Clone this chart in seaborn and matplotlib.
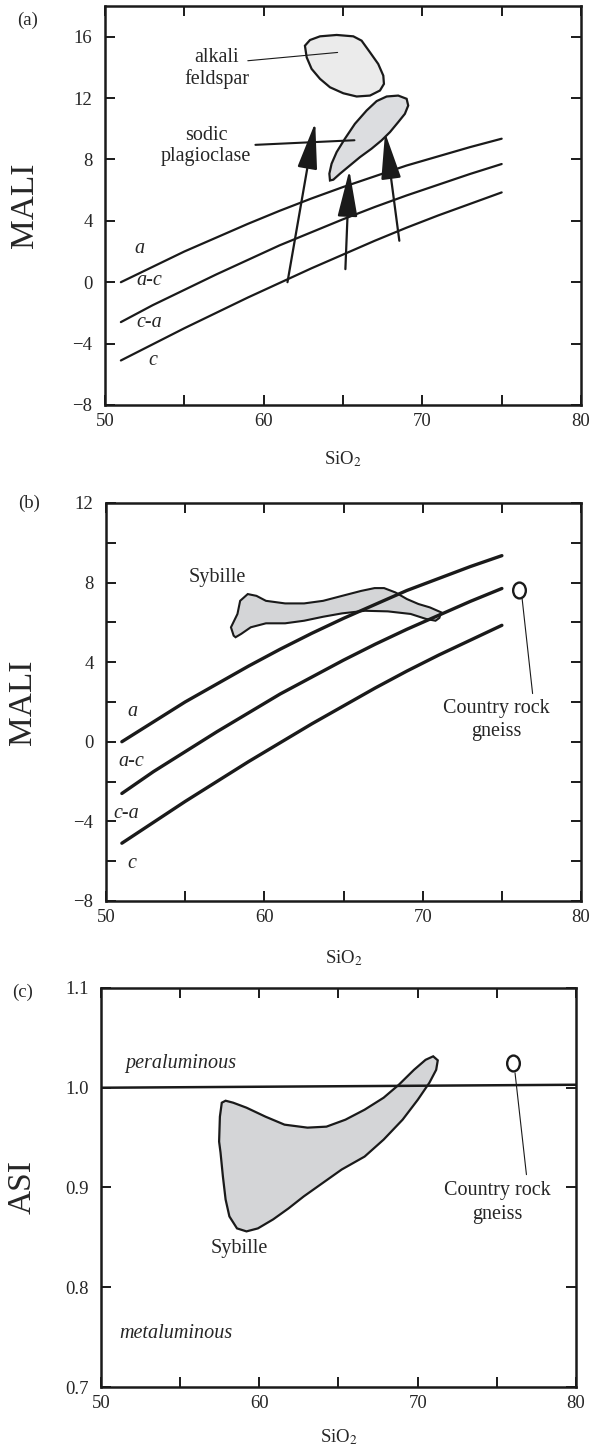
import numpy as np
import matplotlib
matplotlib.use("Agg")
import matplotlib.pyplot as plt
from matplotlib.path import Path
import seaborn as sns

# MALI boundary curves (same in panels a and b)
sio2 = [51, 53, 55, 57, 59, 61, 63, 65, 67, 69, 71, 73, 75]
mali_a = [0.0, 1.0, 2.0, 2.9, 3.8, 4.65, 5.45, 6.2, 6.9, 7.6, 8.2, 8.8, 9.35]
mali_ac = [-2.6, -1.5, -0.5, 0.5, 1.45, 2.4, 3.25, 4.1, 4.9, 5.65, 6.35, 7.05, 7.7]
mali_c = [-5.1, -4.05, -3.0, -2.0, -1.0, -0.05, 0.9, 1.8, 2.7, 3.55, 4.35, 5.1, 5.85]

# panel a: fields
alk_x = [62.6, 62.92, 63.55, 64.6, 65.65, 66.17, 66.7, 67.22, 67.54, 67.58,
         67.33, 66.7, 65.86, 65.02, 64.18, 63.55, 63.02, 62.71]
alk_y = [15.41, 15.78, 16.02, 16.11, 16.02, 15.74, 14.98, 14.22, 13.46, 12.92,
         12.49, 12.16, 12.1, 12.31, 12.7, 13.25, 13.9, 14.65]
plag_x = [64.18, 64.14, 64.28, 64.6, 65.12, 65.75, 66.49, 67.12, 67.75, 68.48,
          69.01, 69.11, 68.9, 68.48, 67.96, 67.43, 66.8, 66.07, 65.44, 64.81, 64.39]
plag_y = [6.63, 7.07, 7.72, 8.48, 9.35, 10.32, 11.19, 11.8, 12.1, 12.16,
          11.95, 11.51, 10.97, 10.43, 9.78, 9.24, 8.7, 8.15, 7.61, 7.07, 6.68]
arrow_x0 = [61.5, 65.15, 68.55]
arrow_y0 = [0.0, 0.85, 2.7]
arrow_x1 = [63.25, 65.4, 67.65]
arrow_y1 = [10.4, 7.3, 9.75]

# panel b: Sybille field (SiO2 vs MALI)
syb_b_x = [58.06, 57.89, 58.3, 58.47, 58.95, 59.5, 60.1, 61.31, 62.51, 63.71,
           64.91, 66.12, 66.96, 67.56, 68.28, 69.0, 69.73, 70.45, 71.17, 71.05,
           70.81, 70.21, 69.24, 67.8, 66.36, 64.91, 63.71, 62.51, 61.31, 60.1,
           59.14, 58.54, 58.18]
syb_b_y = [5.33, 5.75, 6.42, 7.08, 7.42, 7.33, 7.08, 6.95, 6.95, 7.08,
           7.33, 7.58, 7.72, 7.72, 7.5, 7.17, 6.92, 6.75, 6.5, 6.22,
           6.08, 6.17, 6.42, 6.55, 6.58, 6.45, 6.28, 6.08, 5.95, 5.95,
           5.75, 5.42, 5.25]
gneiss_b = (76.1, 7.62)

# panel c: Sybille field (SiO2 vs ASI)
syb_c_x = [57.46, 57.51, 57.63, 57.87, 58.35, 59.19, 60.39, 61.59, 63.04, 64.24,
           65.44, 66.65, 67.85, 68.81, 69.77, 70.5, 70.98, 71.27, 71.17, 70.74,
           70.01, 69.05, 67.85, 66.65, 65.2, 64.0, 62.8, 61.84, 60.87, 59.91,
           59.19, 58.59, 58.11, 57.87, 57.7, 57.55]
syb_c_y = [0.946, 0.971, 0.985, 0.987, 0.985, 0.980, 0.971, 0.963, 0.960, 0.961,
           0.968, 0.978, 0.990, 1.003, 1.018, 1.028, 1.0315, 1.0275, 1.018, 1.005,
           0.988, 0.968, 0.948, 0.931, 0.918, 0.9045, 0.891, 0.879, 0.868, 0.859,
           0.856, 0.859, 0.871, 0.888, 0.911, 0.935]
asi_x = [50, 80]
asi_y = [1.0, 1.003]
gneiss_c = (76.03, 1.025)

sns.set_theme(style="ticks")
plt.rcParams['font.family'] = ['Liberation Serif', 'DejaVu Serif']
plt.rcParams['mathtext.fontset'] = 'stix'

fig = plt.figure(figsize=(5.94, 14.51), dpi=100)
ax_a = fig.add_axes([0.1768, 0.7209, 0.8013, 0.2750])
ax_b = fig.add_axes([0.1785, 0.3791, 0.7997, 0.2743])
ax_c = fig.add_axes([0.1700, 0.0441, 0.7997, 0.2750])

ellipse = Path(Path.unit_circle().vertices * [0.8, 1.0], Path.unit_circle().codes)


def style(ax, ylim, yticks, yminor, ylabel, ylab_x, xlab_y):
    ax.set_xlim(50, 80)
    ax.set_ylim(*ylim)
    ax.set_xticks([50, 60, 70, 80])
    ax.set_xticks([55, 65, 75], minor=True)
    ax.set_yticks(yticks)
    ax.set_yticks(yminor, minor=True)
    ax.tick_params(which='both', direction='in', top=True, right=True,
                   length=7, width=1.4, color='k')
    ax.tick_params(axis='x', which='major', labelsize=13.5, pad=6)
    ax.tick_params(axis='y', which='major', labelsize=13.5, pad=9)
    for s in ax.spines.values():
        s.set_linewidth(1.8)
        s.set_color('k')
    ax.set_xlabel('SiO$_2$', fontsize=13.5)
    ax.xaxis.set_label_coords(0.5, xlab_y)
    ax.set_ylabel(ylabel, fontsize=24)
    ax.yaxis.set_label_coords(ylab_x, 0.5)
    ax.grid(False)


def curves(ax, lw):
    for y in (mali_a, mali_ac, mali_c):
        sns.lineplot(x=sio2, y=y, ax=ax, color='k', lw=lw, zorder=2)


# ---- (a)
ax = ax_a
curves(ax, 1.6)
ax.fill(alk_x, alk_y, facecolor='#ebebeb', edgecolor='k', lw=1.6, zorder=3)
ax.fill(plag_x, plag_y, facecolor='#dcdde0', edgecolor='k', lw=1.6, zorder=3)
for x0, y0, x1, y1 in zip(arrow_x0, arrow_y0, arrow_x1, arrow_y1):
    ax.annotate('', xy=(x1, y1), xytext=(x0, y0), zorder=4,
                arrowprops=dict(arrowstyle='-|>,head_length=2.9,head_width=0.62',
                                mutation_scale=10, lw=1.6, color='k',
                                shrinkA=0, shrinkB=0))
ax.plot([59.0, 64.66], [14.43, 14.97], color='k', lw=0.8, zorder=4)
ax.plot([59.48, 65.72], [8.95, 9.25], color='k', lw=1.5, zorder=4)
ax.text(57.03, 13.95, 'alkali\nfeldspar', ha='center', va='center',
        fontsize=14.5, linespacing=1.15)
ax.text(56.36, 8.87, 'sodic\nplagioclase', ha='center', va='center',
        fontsize=14.5, linespacing=1.15)
for x, y, t in [(52.2, 2.2, 'a'), (52.8, 0.1, 'a-c'), (52.8, -2.6, 'c-a'), (53.0, -5.1, 'c')]:
    ax.text(x, y, t, ha='center', va='center', fontsize=14.5, style='italic')
style(ax, (-8, 18), [-8, -4, 0, 4, 8, 12, 16], [], 'MALI', -0.137, -0.11)

# ---- (b)
ax = ax_b
curves(ax, 2.4)
ax.fill(syb_b_x, syb_b_y, facecolor='#d4d5d7', edgecolor='k', lw=1.5, zorder=1)
sns.scatterplot(x=[gneiss_b[0]], y=[gneiss_b[1]], ax=ax, marker=ellipse, s=130,
                facecolor='white', edgecolor='k', linewidth=1.7, zorder=4)
ax.plot([76.27, 76.94], [7.25, 2.42], color='k', lw=0.8)
ax.text(57.02, 8.25, 'Sybille', ha='center', va='center', fontsize=14.5)
ax.text(74.66, 1.08, 'Country rock\ngneiss', ha='center', va='center',
        fontsize=14.5, linespacing=1.3)
for x, y, t in [(51.7, 1.5, 'a'), (51.6, -1.0, 'a-c'), (51.3, -3.6, 'c-a'), (51.6, -6.1, 'c')]:
    ax.text(x, y, t, ha='center', va='center', fontsize=14.5, style='italic')
style(ax, (-8, 12), [-8, -4, 0, 4, 8, 12], [-6, -2, 2, 6, 10], 'MALI', -0.143, -0.12)

# ---- (c)
ax = ax_c
ax.fill(syb_c_x, syb_c_y, facecolor='#d4d5d7', edgecolor='k', lw=1.6, zorder=2)
sns.lineplot(x=asi_x, y=asi_y, ax=ax, color='k', lw=1.8, zorder=3)
sns.scatterplot(x=[gneiss_c[0]], y=[gneiss_c[1]], ax=ax, marker=ellipse, s=130,
                facecolor='white', edgecolor='k', linewidth=1.7, zorder=4)
ax.plot([76.15, 76.87], [1.0148, 0.9129], color='k', lw=0.8)
ax.text(58.71, 0.839, 'Sybille', ha='center', va='center', fontsize=14.5)
ax.text(75.02, 0.885, 'Country rock\ngneiss', ha='center', va='center',
        fontsize=14.5, linespacing=1.3)
ax.text(51.56, 1.0248, 'peraluminous', ha='left', va='center', fontsize=14.5, style='italic')
ax.text(51.13, 0.754, 'metaluminous', ha='left', va='center', fontsize=14.5, style='italic')
style(ax, (0.7, 1.1), [0.7, 0.8, 0.9, 1.0, 1.1], [], 'ASI', -0.133, -0.10)
ax.set_yticklabels(['0.7', '0.8', '0.9', '1.0', '1.1'])

fig.text(28 / 594, 1 - 20 / 1451, '(a)', ha='center', va='center', fontsize=13.5)
fig.text(29 / 594, 1 - 503 / 1451, '(b)', ha='center', va='center', fontsize=13.5)
fig.text(23 / 594, 1 - 992 / 1451, '(c)', ha='center', va='center', fontsize=13.5)

fig.savefig('out.png', dpi=100)
